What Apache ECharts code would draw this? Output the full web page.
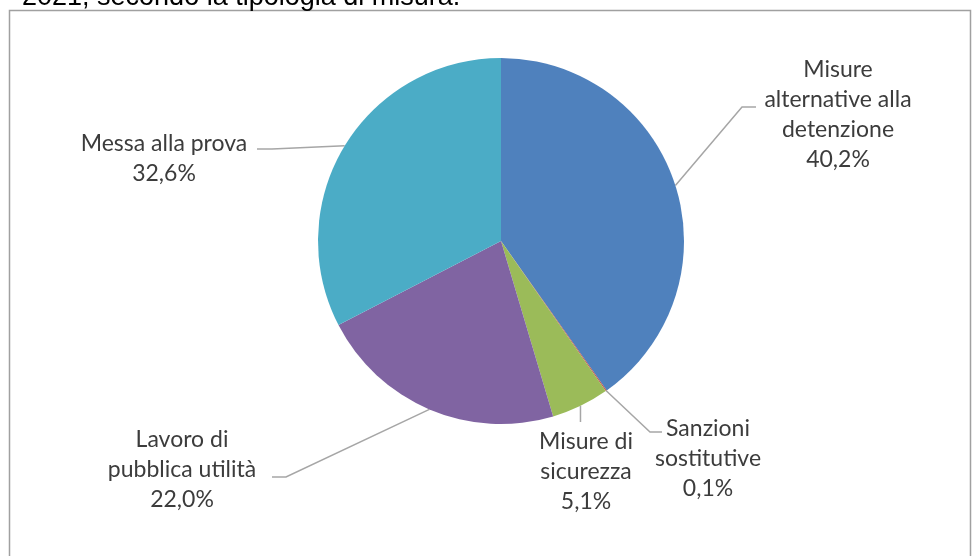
<!DOCTYPE html>
<html>
<head>
<meta charset="utf-8">
<style>
  html, body { margin: 0; padding: 0; background: #ffffff; }
  #chart { width: 972px; height: 556px; }
</style>
<script src="https://cdn.jsdelivr.net/npm/echarts@6/dist/echarts.min.js"></script>
</head>
<body>
<div id="chart"></div>
<script>
// ---- data ----
const categories = ['Misure\nalternative alla\ndetenzione', 'Sanzioni\nsostitutive', 'Misure di\nsicurezza', 'Lavoro di\npubblica utilità', 'Messa alla prova'];
const values = [40.2, 0.1, 5.1, 22.0, 32.6];
const titleText = '2021, secondo la tipologia di misura.';

// ---- style / layout ----
const colors = ['#4F81BD', '#C0504D', '#9BBB59', '#8064A2', '#4BACC6'];
// label centre and leader-line end (elbow, end) per slice
const labelPlaces = [
  { x: 838, y: 115, elbow: [742, 107], end: [756, 107] },
  { x: 708, y: 459, elbow: [650, 432], end: [662, 432] },
  { x: 586, y: 472, elbow: null, end: null, vertical: 422 },
  { x: 182, y: 470, elbow: [286, 477], end: [272, 477] },
  { x: 164, y: 159, elbow: [272, 149], end: [257, 149] }
];

const chart = echarts.init(document.getElementById('chart'), null, { renderer: 'canvas' });

const fmt = v => v.toFixed(1).replace('.', ',') + '%';

chart.setOption({
  animation: false,
  backgroundColor: '#ffffff',
  graphic: [
    {
      type: 'rect',
      shape: { x: 9.5, y: 10.5, width: 961, height: 560 },
      style: { fill: 'none', stroke: '#a0a0a0', lineWidth: 1.5 },
      z: 0
    },
    {
      type: 'text',
      left: 22,
      top: -16,
      style: {
        text: titleText,
        font: '27px "Liberation Sans", Arial, sans-serif',
        fill: '#000000'
      }
    }
  ],
  series: [{
    type: 'pie',
    center: [501, 241],
    radius: 183,
    startAngle: 90,
    clockwise: true,
    avoidLabelOverlap: false,
    itemStyle: { borderWidth: 0 },
    data: categories.map((c, i) => ({ name: c, value: values[i], itemStyle: { color: colors[i] } })),
    label: {
      show: true,
      position: 'outside',
      formatter: p => p.name + '\n' + fmt(p.value),
      fontFamily: 'Lato, "Open Sans", sans-serif',
      fontSize: 23,
      lineHeight: 30,
      color: '#3c3c3c',
      align: 'center'
    },
    labelLine: {
      show: true,
      lineStyle: { color: '#a6a6a6', width: 1.5 }
    },
    labelLayout: function (params) {
      const pl = labelPlaces[params.dataIndex];
      const anchor = params.labelLinePoints ? params.labelLinePoints[0] : null;
      const res = { x: pl.x, y: pl.y, align: 'center', verticalAlign: 'middle' };
      if (anchor) {
        if (pl.vertical != null) {
          res.labelLinePoints = [anchor, [anchor[0], pl.vertical]];
        } else {
          res.labelLinePoints = [anchor, pl.elbow, pl.end];
        }
      }
      return res;
    },
    emphasis: { disabled: true }
  }]
});
</script>
</body>
</html>
